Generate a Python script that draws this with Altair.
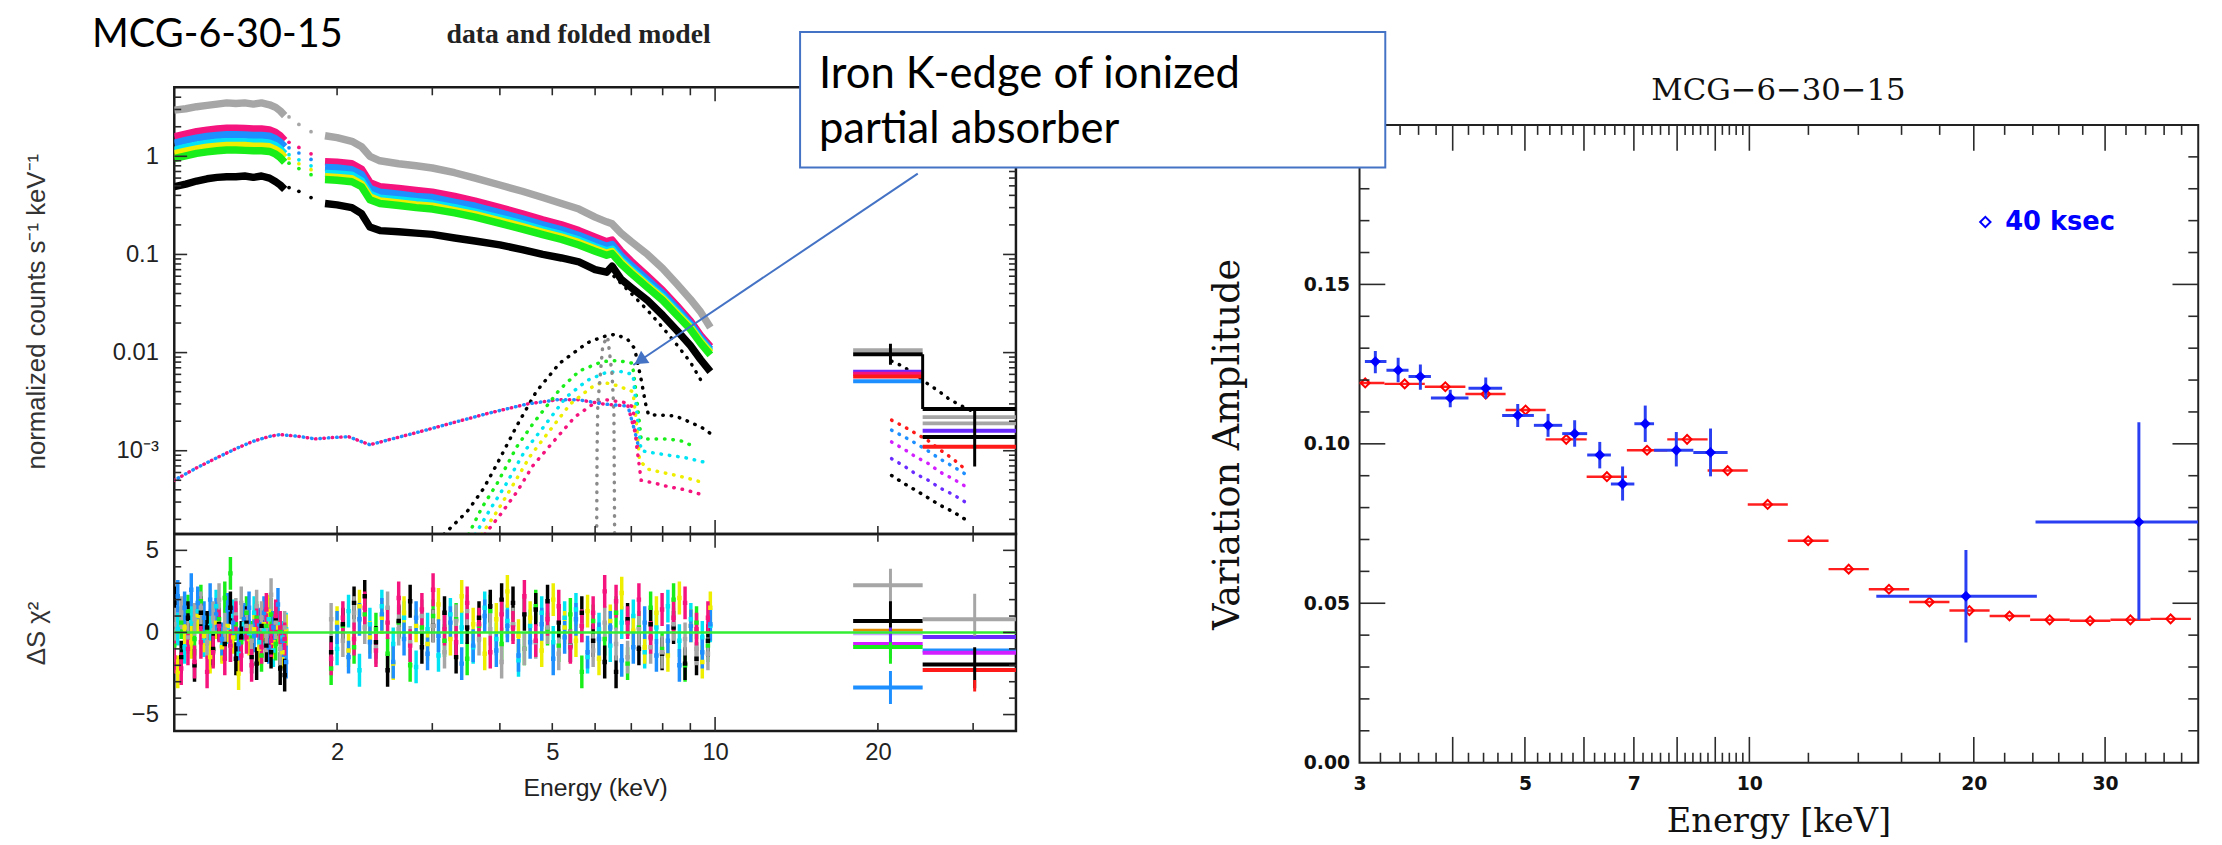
import altair as alt
import pandas as pd

# ---------------- fonts / colours ----------------
SANS = "Liberation Sans, Arial, sans-serif"
SERIF = "DejaVu Serif, serif"
BSANS = "DejaVu Sans, sans-serif"
CAL = "Lato, Open Sans, sans-serif"
TIMES = "Liberation Serif, Times New Roman, serif"

KEYS = ["gray", "pink", "blue", "cyan", "yellow", "green", "black", "red",
        "purple", "magenta", "orange", "lavender", "dgray"]
HEX = ["#a6a6a6", "#f5147e", "#1e8fff", "#00e4f4", "#eeee00", "#1aee1a", "#000000",
       "#ff1a1a", "#6a2bff", "#d21fff", "#e08c00", "#c8a8ff", "#8a8a8a"]
CSCALE = alt.Scale(domain=KEYS, range=HEX)

# ---------------- left panel: spectra ----------------
E_A = [1.00, 1.05, 1.10, 1.15, 1.20, 1.25, 1.30, 1.35, 1.40, 1.45, 1.50, 1.54, 1.57, 1.60]
E_GAP = [1.63, 1.70, 1.79]
E_B = [1.90, 2.00, 2.13, 2.22, 2.30, 2.40, 2.60, 2.80, 3.00, 3.30, 3.60, 4.00, 4.40, 4.80,
       5.20, 5.60, 6.00, 6.30, 6.45, 6.70, 7.00, 7.50, 8.00, 8.50, 9.00, 9.40, 9.80]

GRAY_A = [2.95, 3.05, 3.2, 3.3, 3.4, 3.5, 3.45, 3.5, 3.4, 3.5, 3.35, 3.15, 2.9, 2.6]
PINK_A = [1.58, 1.68, 1.78, 1.85, 1.90, 1.93, 1.93, 1.92, 1.90, 1.90, 1.86, 1.75, 1.62, 1.45]
BLUE_A = [1.36, 1.45, 1.53, 1.59, 1.63, 1.66, 1.66, 1.65, 1.63, 1.63, 1.60, 1.50, 1.39, 1.25]
CYAN_A = [1.15, 1.23, 1.30, 1.35, 1.39, 1.41, 1.41, 1.40, 1.39, 1.39, 1.36, 1.28, 1.18, 1.06]
YELL_A = [1.06, 1.13, 1.19, 1.24, 1.27, 1.29, 1.29, 1.29, 1.27, 1.27, 1.25, 1.17, 1.09, 0.97]
GREEN_A = [0.95, 1.01, 1.07, 1.11, 1.14, 1.16, 1.16, 1.15, 1.14, 1.14, 1.12, 1.05, 0.97, 0.87]
BLACK_A = [0.49, 0.52, 0.56, 0.59, 0.61, 0.62, 0.62, 0.63, 0.61, 0.63, 0.60, 0.55, 0.51, 0.46]

GRAY_G = [2.52, 2.11, 1.78]
PINK_G = [1.39, 1.23, 1.06]
BLUE_G = [1.22, 1.08, 0.93]
CYAN_G = [1.04, 0.92, 0.80]
YELL_G = [0.95, 0.84, 0.73]
GREEN_G = [0.85, 0.75, 0.65]
BLACK_G = [0.48, 0.44, 0.38]

GRAY_B = [1.62, 1.55, 1.42, 1.25, 1.0, 0.9, 0.84, 0.8, 0.76, 0.68, 0.6, 0.51, 0.44, 0.38,
          0.33, 0.29, 0.24, 0.215, 0.205, 0.165, 0.135, 0.1, 0.072, 0.05, 0.035, 0.026, 0.018]
PINK_B = [0.88, 0.87, 0.84, 0.74, 0.54, 0.49, 0.47, 0.45, 0.43, 0.39, 0.35, 0.30, 0.26, 0.225,
          0.20, 0.175, 0.15, 0.135, 0.14, 0.108, 0.085, 0.06, 0.043, 0.03, 0.021, 0.015, 0.0115]
BLUE_B = [0.77, 0.76, 0.73, 0.65, 0.47, 0.43, 0.41, 0.39, 0.38, 0.34, 0.31, 0.265, 0.23, 0.2,
          0.178, 0.156, 0.134, 0.121, 0.126, 0.097, 0.077, 0.055, 0.04, 0.028, 0.0197, 0.0141, 0.0108]
CYAN_B = [0.67, 0.66, 0.64, 0.56, 0.41, 0.375, 0.36, 0.345, 0.33, 0.3, 0.27, 0.235, 0.205, 0.178,
          0.159, 0.14, 0.12, 0.109, 0.113, 0.088, 0.07, 0.05, 0.037, 0.026, 0.0185, 0.0134, 0.0103]
YELL_B = [0.62, 0.61, 0.59, 0.52, 0.385, 0.35, 0.335, 0.32, 0.31, 0.28, 0.255, 0.22, 0.192, 0.168,
          0.15, 0.132, 0.114, 0.103, 0.107, 0.084, 0.067, 0.048, 0.0355, 0.025, 0.018, 0.013, 0.01]
GREEN_B = [0.58, 0.57, 0.55, 0.49, 0.36, 0.33, 0.315, 0.3, 0.29, 0.265, 0.24, 0.207, 0.181, 0.159,
           0.142, 0.125, 0.108, 0.098, 0.102, 0.08, 0.064, 0.046, 0.034, 0.024, 0.0173, 0.0125, 0.0095]
BLACK_B = [0.33, 0.32, 0.30, 0.26, 0.19, 0.175, 0.17, 0.165, 0.16, 0.147, 0.137, 0.125, 0.112, 0.1,
           0.092, 0.084, 0.07, 0.066, 0.076, 0.056, 0.046, 0.034, 0.024, 0.0168, 0.0118, 0.0085, 0.0064]

SPEC_ORDER = ["gray", "pink", "blue", "cyan", "yellow", "green", "black"]
SPEC_A = dict(zip(SPEC_ORDER, [GRAY_A, PINK_A, BLUE_A, CYAN_A, YELL_A, GREEN_A, BLACK_A]))
SPEC_G = dict(zip(SPEC_ORDER, [GRAY_G, PINK_G, BLUE_G, CYAN_G, YELL_G, GREEN_G, BLACK_G]))
SPEC_B = dict(zip(SPEC_ORDER, [GRAY_B, PINK_B, BLUE_B, CYAN_B, YELL_B, GREEN_B, BLACK_B]))

# dotted model components (E, value)
SOFT_E = [1.0, 1.1, 1.2, 1.3, 1.4, 1.5, 1.57, 1.7, 1.82, 1.95, 2.1, 2.3, 2.5, 2.83, 3.3, 3.8,
          4.5, 5.1, 5.6, 6.2, 6.9, 7.1, 7.25]
SOFT_V = [5.0e-4, 6.7e-4, 8.5e-4, 1.05e-3, 1.25e-3, 1.4e-3, 1.46e-3, 1.4e-3, 1.32e-3, 1.36e-3,
          1.39e-3, 1.15e-3, 1.3e-3, 1.55e-3, 1.95e-3, 2.4e-3, 3.0e-3, 3.3e-3, 3.3e-3, 3.0e-3,
          2.85e-3, 1.6e-3, 1.0e-3]
BLK_LINE_E = [3.15, 3.48, 3.73, 3.95, 4.3, 4.67, 5.16, 5.81, 6.2, 6.55, 6.9, 7.1, 7.3, 7.44,
              7.53, 8.0, 8.44, 8.9, 9.44, 9.8]
BLK_LINE_V = [1.4e-4, 2.4e-4, 4.1e-4, 7.3e-4, 1.8e-3, 4.0e-3, 7.8e-3, 0.0126, 0.0145, 0.0154,
              0.0135, 0.011, 5.3e-3, 3.0e-3, 2.33e-3, 2.3e-3, 2.26e-3, 2.0e-3, 1.73e-3, 1.5e-3]
GRN_LINE_E = [3.5, 3.7, 3.95, 4.3, 4.61, 5.16, 5.61, 6.19, 6.6, 7.03, 7.12, 7.2, 7.3, 7.6, 8.18, 8.7, 9.15]
GRN_LINE_V = [1.4e-4, 2.6e-4, 4.6e-4, 1.1e-3, 1.9e-3, 4.2e-3, 6.5e-3, 8.1e-3, 8.3e-3, 7.8e-3,
              4.5e-3, 2.65e-3, 1.32e-3, 1.32e-3, 1.32e-3, 1.25e-3, 1.1e-3]
CYN_LINE_E = [3.6, 3.85, 4.1, 4.45, 4.8, 5.3, 5.8, 6.3, 6.7, 7.05, 7.12, 7.2, 7.3, 7.6, 8.2, 8.8, 9.6]
CYN_LINE_V = [1.4e-4, 2.6e-4, 4.5e-4, 1.0e-3, 1.7e-3, 3.5e-3, 5.2e-3, 6.3e-3, 6.4e-3, 6.0e-3,
              3.5e-3, 1.9e-3, 1.0e-3, 9.6e-4, 9.0e-4, 8.5e-4, 7.6e-4]
YEL_LINE_E = [3.7, 3.95, 4.2, 4.55, 4.9, 5.4, 5.9, 6.2, 6.6, 7.05, 7.15, 7.25, 7.5, 8.0, 8.6, 9.2, 9.5]
YEL_LINE_V = [1.4e-4, 2.4e-4, 4.2e-4, 8.8e-4, 1.5e-3, 3.0e-3, 4.4e-3, 5.0e-3, 4.6e-3, 4.0e-3,
              2.0e-3, 8.0e-4, 6.5e-4, 6.0e-4, 5.5e-4, 5.0e-4, 4.7e-4]
PNK_LINE_E = [3.75, 4.0, 4.3, 4.6, 5.0, 5.5, 5.9, 6.3, 6.8, 7.05, 7.15, 7.3, 7.7, 8.2, 8.8, 9.4]
PNK_LINE_V = [1.4e-4, 2.2e-4, 3.8e-4, 7.0e-4, 1.2e-3, 2.2e-3, 2.9e-3, 3.3e-3, 3.1e-3, 2.8e-3,
              1.2e-3, 5.0e-4, 4.7e-4, 4.3e-4, 4.0e-4, 3.6e-4]
NARROW_E = [6.04, 6.05, 6.07, 6.2, 6.33, 6.45, 6.5, 6.52]
NARROW_V = [1.4e-4, 1.0e-3, 3.0e-3, 0.012, 0.0145, 0.006, 2.5e-3, 1.4e-4]
TOT_BLK_E = [6.5, 7.0, 7.5, 8.0, 8.5, 9.0, 9.5]
TOT_BLK_V = [0.06, 0.04, 0.027, 0.018, 0.012, 0.008, 0.0048]
HXD_TOT_E = [21.2, 22.3, 24.6, 26.0, 27.2, 28.8, 30.5]
HXD_TOT_V = [0.0082, 0.0072, 0.0049, 0.004, 0.0033, 0.0028, 0.0024]
HXD_CMP_E = [21.2, 22.4, 23.5, 24.8, 26.0, 27.5, 29.0]
HXD_RED_V = [2.05e-3, 1.75e-3, 1.5e-3, 1.26e-3, 1.03e-3, 8.3e-4, 6.5e-4]
HXD_BLU_V = [1.62e-3, 1.38e-3, 1.19e-3, 9.9e-4, 8.3e-4, 6.95e-4, 5.8e-4]
HXD_MAG_V = [1.23e-3, 1.03e-3, 8.65e-4, 7.4e-4, 6.1e-4, 5.2e-4, 4.35e-4]
HXD_PUR_V = [8.3e-4, 6.95e-4, 5.8e-4, 5.0e-4, 4.2e-4, 3.6e-4, 3.0e-4]
HXD_BLK_V = [5.6e-4, 4.6e-4, 3.95e-4, 3.3e-4, 2.8e-4, 2.4e-4, 2.0e-4]

# HXD data bins (upper)
HXD_LO = [18.0, 24.2]
HXD_HI = [24.2, 36.0]
HXD_UP_K1 = ["gray", "black", "purple", "pink", "red", "blue"]
HXD_UP_V1 = [0.0106, 0.0096, 0.0064, 0.0061, 0.0057, 0.0051]
HXD_UP_K2 = ["black", "gray", "gray", "purple", "black", "red"]
HXD_UP_V2 = [0.00266, 0.0022, 0.0019, 0.0016, 0.00138, 0.0011]
HXD_UP_VE = [21.1, 24.2, 30.2]
HXD_UP_VLO = [0.0075, 0.00266, 0.00069]
HXD_UP_VHI = [0.0123, 0.0096, 0.0026]

# ---------------- residuals ----------------
RES_E_A1 = [1.00, 1.03, 1.06, 1.09, 1.12, 1.15, 1.18, 1.21, 1.24, 1.27, 1.30, 1.33, 1.36, 1.39,
            1.42, 1.45, 1.48, 1.51, 1.54, 1.57, 1.60]
RES_E_B1 = [1.95, 2.05, 2.15, 2.25, 2.36, 2.48, 2.60, 2.73, 2.87, 3.01, 3.16, 3.32, 3.48, 3.66,
            3.84, 4.03, 4.23, 4.44, 4.66, 4.90, 5.14, 5.40, 5.67, 5.95, 6.25, 6.56, 6.89, 7.23,
            7.60, 7.98, 8.38, 8.80, 9.24, 9.70]
RES_E_A2 = [1.015, 1.045, 1.075, 1.105, 1.135, 1.165, 1.195, 1.225, 1.255, 1.285, 1.315, 1.345,
            1.375, 1.405, 1.435, 1.465, 1.495, 1.525, 1.555, 1.585, 1.61]
RES_E_B2 = [2.00, 2.10, 2.20, 2.30, 2.42, 2.54, 2.66, 2.80, 2.94, 3.08, 3.24, 3.40, 3.57, 3.75,
            3.94, 4.13, 4.33, 4.55, 4.78, 5.02, 5.27, 5.53, 5.81, 6.10, 6.40, 6.72, 7.06, 7.41,
            7.79, 8.18, 8.59, 9.02, 9.47, 9.80]
RES_GRAY = [0.5, 1.2, -0.3, 0.8, 1.5, -0.6, 0.9, 2.0, 0.2, -0.8, 1.1, 1.8, 0.4, -0.5, 1.6, 0.9, -0.2,
            2.3, 0.6, -1.0, 0.3,
            0.8, -0.5, 1.2, 0.3, -0.9, 1.5, 0.2, -0.6, 1.0, 0.4, -1.2, 0.7, 1.3, -0.4, 0.2, -1.8, 0.5,
            -1.0, -0.6, 0.3, -1.3, -0.8, 0.4, -1.1, 0.6, -0.7, -1.5, 0.2, -0.9, -1.2, 0.5, -0.4, -1.0, -1.3]
RES_BLACK = [1.8, -1.5, 0.9, -2.0, 1.2, 0.3, -1.0, 0.5, -0.7, 1.5, -1.6, -0.3, 0.6, -1.5, -1.9, 0.4,
             -0.8, -1.2, 0.8, -2.2, -2.6,
             -1.2, 0.5, 1.8, 2.2, -0.6, -2.3, 0.7, 1.9, -0.9, 0.4, 1.2, -1.5, 0.3, 0.9, 1.6, 2.0, 1.8,
             1.1, 1.4, 1.9, 0.6, -0.8, 1.2, -0.5, -1.8, -2.4, 0.8, -1.0, 0.5, -1.3, 0.3, -1.9, -1.6, -0.5]
RES_PINK = [-1.5, -2.2, -1.0, -1.8, -0.6, -2.4, -1.2, 0.4, -1.6, -0.8, 0.9, -1.4, -0.3, -2.0, 0.7,
            -0.9, 1.4, -0.5, 1.0, 0.3, -0.4,
            -1.6, 0.9, -0.4, 1.5, -1.1, 0.6, 2.1, -0.8, 1.4, 2.6, 0.2, -0.6, 1.8, 0.5, -1.2, 1.1, 0.3,
            2.2, -0.5, 0.8, 1.6, -0.9, 0.4, 1.2, 2.5, 1.9, 0.6, 2.0, -0.3, 1.4, 0.9, 1.8, 0.2, 0.9]
RES_GREEN = [-0.8, 0.6, 1.3, -0.4, 1.9, 0.2, -1.1, 0.8, 2.1, 3.6, 0.5, -0.6, 1.2, -0.3, 0.9, -1.4,
             0.4, 1.1, -0.7, 0.2, -0.5,
             -2.2, 0.4, -0.9, 1.1, 0.2, -1.3, 0.6, -2.0, 0.3, 1.0, -0.5, 0.8, -1.6, 0.4, 1.3, -0.7,
             0.5, -1.0, 1.6, 0.2, -0.8, 1.1, -2.4, 0.7, -0.4, 1.2, -1.9, 0.3, 1.5, -1.0, 2.0, -2.0, 0.6, -0.8]
RES_BLUE = [2.2, 1.5, 2.6, 1.8, 0.9, 2.0, 1.1, -0.4, 1.4, 0.6, -0.7, 0.8, 1.5, -0.2, 0.5, 1.2, -0.9,
            0.3, 1.7, -0.5, -1.8,
            0.3, -1.5, 0.8, -0.6, 1.1, -1.8, -0.4, 0.9, -1.3, -0.2, 0.6, -1.9, -0.8, 1.0, -1.1, 0.4,
            -1.4, -0.6, 0.5, -1.6, -0.3, 0.8, -1.2, -0.4, 0.3, -1.7, -0.9, 0.6, -1.4, -0.5, -2.0, 0.4, -1.2, 0.5]
RES_CYAN = [0.2, -0.9, 0.7, 1.3, -0.5, 0.4, 1.6, -0.8, 0.3, 1.0, -1.3, 0.5, -0.2, 1.2, -0.6, 0.1,
            0.8, -1.1, 0.5, -0.3, 0.2,
            -1.0, 1.3, -2.3, 0.5, 1.6, -0.7, 0.9, -2.1, 0.2, -1.4, 1.1, 0.3, -0.9, 1.5, -0.4, 0.7,
            -1.7, 0.4, 1.2, -0.6, 0.9, 1.4, -1.5, 0.2, -0.8, 0.6, 1.0, -1.2, 0.3, 1.6, -0.5, 0.8, -0.3, 0.4]
RES_YELL = [-2.4, 0.3, -0.6, 1.0, -0.2, -1.5, 0.6, -0.9, 0.4, -0.3, -2.5, 0.8, -0.4, 0.2, -1.0, 0.5,
            1.3, -0.6, 0.3, -1.2, 0.1,
            0.6, -1.1, 1.6, -0.3, 0.9, -1.9, 1.2, 0.4, -0.7, 1.7, -0.4, 2.2, 0.5, -1.3, 0.8, 2.5, -0.2,
            0.9, -1.1, 2.0, 0.3, -0.5, 1.3, -1.6, 0.7, 2.4, 0.1, -0.9, 1.2, -1.4, 2.1, 0.4, -1.8, 1.5]
RES_ERR = 1.0

HXD_RES_K1 = ["gray", "black", "orange", "lavender", "magenta", "green", "blue"]
HXD_RES_V1 = [2.87, 0.70, 0.10, -0.05, -0.70, -0.88, -3.35]
HXD_RES_K2 = ["gray", "purple", "blue", "magenta", "black", "red"]
HXD_RES_V2 = [0.81, -0.28, -1.10, -1.24, -1.95, -2.29]
HXD_RES_VE = [21.1, 21.1, 21.1, 21.1, 21.1, 30.2, 30.2, 30.2]
HXD_RES_VK = ["gray", "black", "purple", "green", "blue", "gray", "black", "red"]
HXD_RES_VLO = [1.77, -0.6, -1.6, -1.9, -4.35, -0.2, -3.4, -3.6]
HXD_RES_VHI = [3.88, 1.9, 0.3, -0.6, -2.35, 2.35, -0.9, -2.9]

# ---------------- right panel ----------------
RED_E = [3.053, 3.449, 3.91, 4.43, 5.01, 5.68, 6.44, 7.29, 8.25, 9.35, 10.58, 11.99, 13.59, 15.39,
         17.44, 19.73, 22.33, 25.28, 28.64, 32.44, 36.73]
RED_V = [0.1191, 0.1188, 0.1179, 0.1156, 0.1106, 0.1014, 0.0897, 0.0980, 0.1014, 0.0916, 0.0810,
         0.0696, 0.0607, 0.0544, 0.0504, 0.0477, 0.0460, 0.0448, 0.0445, 0.0448, 0.0451]
RED_LO = [2.87, 3.24, 3.67, 4.16, 4.71, 5.33, 6.05, 6.85, 7.76, 8.79, 9.95, 11.26, 12.77, 14.46,
          16.38, 18.55, 21.0, 23.8, 26.9, 30.5, 34.5]
RED_HI = [3.24, 3.67, 4.16, 4.71, 5.33, 6.05, 6.85, 7.76, 8.79, 9.95, 11.26, 12.77, 14.46, 16.38,
          18.55, 21.0, 23.8, 26.9, 30.5, 34.5, 39.1]
BLUE_E = [3.15, 3.38, 3.62, 3.97, 4.43, 4.89, 5.37, 5.83, 6.30, 6.76, 7.25, 7.98, 8.87, 19.52, 33.3]
BLUE_V = [0.1258, 0.1231, 0.1211, 0.1144, 0.1174, 0.1089, 0.1058, 0.1032, 0.0965, 0.0874, 0.1063,
          0.0980, 0.0973, 0.0522, 0.0755]
BLUE_LO = [3.05, 3.26, 3.49, 3.74, 4.20, 4.66, 5.14, 5.61, 6.06, 6.52, 7.01, 7.45, 8.41, 14.8, 24.2]
BLUE_HI = [3.26, 3.49, 3.74, 4.20, 4.66, 5.14, 5.61, 6.06, 6.52, 7.01, 7.45, 8.41, 9.35, 24.3, 40.0]
BLUE_ELO = [0.1221, 0.1193, 0.1170, 0.1115, 0.1141, 0.1053, 0.1022, 0.0991, 0.0923, 0.0822, 0.1006,
            0.0929, 0.0898, 0.0377, 0.0448]
BLUE_EHI = [0.1291, 0.1270, 0.1249, 0.1170, 0.1208, 0.1125, 0.1094, 0.1074, 0.1006, 0.0929, 0.1120,
            0.1037, 0.1048, 0.0667, 0.1068]

# tick positions
L_X_MAJ = [10]
L_X_MIN = [2, 3, 4, 5, 6, 7, 8, 9, 20, 30]
L_Y_MAJ = [1e-3, 1e-2, 0.1, 1]
L_Y_MIN = [m * d for d in [1e-4, 1e-3, 1e-2, 0.1, 1] for m in range(2, 10) if 1.5e-4 < m * d < 5.0]
R_RES_MAJ = [-5, 0, 5]
R_RES_MIN = [-4, -3, -2, -1, 1, 2, 3, 4]
R_X_MAJ = [4, 5, 6, 7, 8, 9, 10, 20, 30]
R_X_MIN = [round(3 + 0.2 * i, 1) for i in range(1, 35) if (i % 5) != 0] + \
          [12, 14, 16, 18, 22, 24, 26, 28, 32, 34, 36, 38]
R_Y_MAJ = [0.05, 0.10, 0.15]
R_Y_MIN = [round(0.01 * i, 2) for i in range(1, 20) if i % 5 != 0]

# ---------------- geometry ----------------
UW, UH = 850, 451
LH = 199
RW, RH = 847, 644
XS_L = alt.Scale(type="log", domain=[1, 36], nice=False)
YS_U = alt.Scale(type="log", domain=[1.42e-4, 5.04], nice=False)
YS_L = alt.Scale(domain=[-6, 6], nice=False, zero=False)
XS_R = alt.Scale(type="log", domain=[3, 40], nice=False)
YS_R = alt.Scale(domain=[0, 0.2], nice=False, zero=False)
ONE = pd.DataFrame({"a": [0]})
TICK_C = "#2a2a2a"


def xticks(vals, scale, H, L, axis_off=True, sw=1.6):
    df = pd.DataFrame({"t": vals})
    xe = alt.X("t:Q", scale=scale, axis=None) if axis_off else alt.X("t:Q", scale=scale)
    top = alt.Chart(df).mark_rule(color=TICK_C, strokeWidth=sw).encode(
        x=xe, y=alt.value(0), y2=alt.value(L))
    bot = alt.Chart(df).mark_rule(color=TICK_C, strokeWidth=sw).encode(
        x=xe, y=alt.value(H), y2=alt.value(H - L))
    return [top, bot]


def yticks(vals, scale, W, L, sw=1.6):
    df = pd.DataFrame({"t": vals})
    lft = alt.Chart(df).mark_rule(color=TICK_C, strokeWidth=sw).encode(
        y=alt.Y("t:Q", scale=scale), x=alt.value(0), x2=alt.value(L))
    rgt = alt.Chart(df).mark_rule(color=TICK_C, strokeWidth=sw).encode(
        y=alt.Y("t:Q", scale=scale), x=alt.value(W), x2=alt.value(W - L))
    return [lft, rgt]


def text(t, x, y, font, size, color="#000", weight="normal", align="left", baseline="alphabetic"):
    return alt.Chart(ONE).mark_text(text=t, font=font, fontSize=size, color=color,
                                    fontWeight=weight, align=align, baseline=baseline).encode(
        x=alt.value(x), y=alt.value(y))


def anchor(x1, x2, y1, y2):
    # invisible layout helper fixing the bounding box of a column
    return alt.Chart(ONE).mark_rule(strokeOpacity=0, strokeWidth=0.1).encode(
        x=alt.value(x1), x2=alt.value(x2), y=alt.value(y1), y2=alt.value(y2))


# ---------------- build upper-left view ----------------
rows = []
for k in SPEC_ORDER:
    for e, v in zip(E_A, SPEC_A[k]):
        rows.append({"E": e, "v": v, "k": k, "seg": k + "A"})
    for e, v in zip(E_B, SPEC_B[k]):
        rows.append({"E": e, "v": v, "k": k, "seg": k + "B"})
spec_df = pd.DataFrame(rows)
gap_df = pd.DataFrame([{"E": e, "v": v, "k": k} for k in SPEC_ORDER for e, v in zip(E_GAP, SPEC_G[k])])

models = [
    ("soft", "pink", SOFT_E, SOFT_V), ("blk", "black", BLK_LINE_E, BLK_LINE_V),
    ("grn", "green", GRN_LINE_E, GRN_LINE_V), ("cyn", "cyan", CYN_LINE_E, CYN_LINE_V),
    ("yel", "yellow", YEL_LINE_E, YEL_LINE_V), ("pnk", "pink", PNK_LINE_E, PNK_LINE_V),
    ("nar", "dgray", NARROW_E, NARROW_V), ("tot", "black", TOT_BLK_E, TOT_BLK_V),
    ("htot", "black", HXD_TOT_E, HXD_TOT_V), ("hred", "red", HXD_CMP_E, HXD_RED_V),
    ("hblu", "blue", HXD_CMP_E, HXD_BLU_V), ("hmag", "magenta", HXD_CMP_E, HXD_MAG_V),
    ("hpur", "purple", HXD_CMP_E, HXD_PUR_V), ("hblk", "black", HXD_CMP_E, HXD_BLK_V),
]
mrows = []
for name, k, es, vs in models:
    for e, v in zip(es, vs):
        mrows.append({"E": e, "v": v, "k": k, "c": name})
model_df = pd.DataFrame(mrows)
soft_b_df = pd.DataFrame({"E": SOFT_E, "v": SOFT_V, "k": "blue"})

hxd_rows = []
for k, v in zip(HXD_UP_K1, HXD_UP_V1):
    hxd_rows.append({"lo": HXD_LO[0], "hi": HXD_HI[0], "v": v, "k": k})
for k, v in zip(HXD_UP_K2, HXD_UP_V2):
    hxd_rows.append({"lo": HXD_LO[1], "hi": HXD_HI[1], "v": v, "k": k})
hxd_df = pd.DataFrame(hxd_rows)
hxd_v_df = pd.DataFrame({"E": HXD_UP_VE, "lo": HXD_UP_VLO, "hi": HXD_UP_VHI})

ARROW_E = [23.7, 7.06]
ARROW_V = [0.666, 0.00748]
arrow_df = pd.DataFrame({"E": ARROW_E, "v": ARROW_V})
head_df = pd.DataFrame({"E": [7.26], "v": [0.0083]})

Y_AXIS_U = alt.Axis(values=[0.001, 0.01, 0.1, 1],
                    labelExpr="datum.value > 0.5 ? '1' : datum.value > 0.05 ? '0.1' : datum.value > 0.005 ? '0.01' : '10⁻³'",
                    ticks=False, domain=False, grid=False, labelFont=SANS, labelFontSize=24,
                    labelColor="#222", labelPadding=16, labelFlush=False, labelOverlap=False,
                    title="normalized counts s⁻¹ keV⁻¹", titleFont=SANS, titleFontSize=26,
                    titleFontWeight="normal", titleColor="#333", titleAngle=270,
                    titleX=-139, titleY=226, titleAlign="center", titleBaseline="middle")

spec_lines = alt.Chart(spec_df).mark_line(strokeWidth=7.5, clip=True, strokeJoin="round").encode(
    x=alt.X("E:Q", scale=XS_L, axis=None),
    y=alt.Y("v:Q", scale=YS_U, axis=Y_AXIS_U),
    color=alt.Color("k:N", scale=CSCALE, legend=None),
    detail="seg:N")
gap_pts = alt.Chart(gap_df).mark_point(filled=True, size=14, opacity=1, clip=True).encode(
    x=alt.X("E:Q", scale=XS_L, axis=None), y=alt.Y("v:Q", scale=YS_U),
    color=alt.Color("k:N", scale=CSCALE, legend=None))
model_lines = alt.Chart(model_df).mark_line(strokeWidth=3.5, strokeDash=[0.5, 8], strokeCap="round",
                                            clip=True).encode(
    x=alt.X("E:Q", scale=XS_L, axis=None), y=alt.Y("v:Q", scale=YS_U),
    color=alt.Color("k:N", scale=CSCALE, legend=None), detail="c:N")
soft_b = alt.Chart(soft_b_df).mark_line(strokeWidth=3.5, strokeDash=[0.5, 8], strokeDashOffset=4,
                                        strokeCap="round", clip=True).encode(
    x=alt.X("E:Q", scale=XS_L, axis=None), y=alt.Y("v:Q", scale=YS_U),
    color=alt.Color("k:N", scale=CSCALE, legend=None))
hxd_rules = alt.Chart(hxd_df).mark_rule(strokeWidth=4, clip=True).encode(
    x=alt.X("lo:Q", scale=XS_L, axis=None), x2="hi:Q", y=alt.Y("v:Q", scale=YS_U),
    color=alt.Color("k:N", scale=CSCALE, legend=None))
hxd_vrules = alt.Chart(hxd_v_df).mark_rule(strokeWidth=3, color="#000", clip=True).encode(
    x=alt.X("E:Q", scale=XS_L, axis=None), y=alt.Y("lo:Q", scale=YS_U), y2="hi:Q")
arrow_line = alt.Chart(arrow_df).mark_line(color="#4472C4", strokeWidth=2).encode(
    x=alt.X("E:Q", scale=XS_L, axis=None), y=alt.Y("v:Q", scale=YS_U))
arrow_head = alt.Chart(head_df).mark_point(shape="triangle-up", filled=True, size=230, angle=236,
                                           color="#4472C4", opacity=1).encode(
    x=alt.X("E:Q", scale=XS_L, axis=None), y=alt.Y("v:Q", scale=YS_U))

upper_layers = [spec_lines, anchor(-174, 860, -82, 763), gap_pts, model_lines, soft_b,
                hxd_rules, hxd_vrules, arrow_line, arrow_head,
                text("MCG-6-30-15", -83, -41, CAL, 40, "#000"),
                text("data and folded model", 275, -45, TIMES, 28, "#222", "bold")]
upper_layers += xticks(L_X_MAJ, XS_L, UH, 14) + xticks(L_X_MIN, XS_L, UH, 8)
upper_layers += yticks(L_Y_MAJ, YS_U, UW, 13) + yticks(L_Y_MIN, YS_U, UW, 7)
upper = alt.layer(*upper_layers).properties(
    width=UW, height=UH, view=alt.ViewBackground(stroke="#1a1a1a", strokeWidth=2.5))

# ---------------- lower-left view (residuals) ----------------
res_sets = [
    ("cyan", RES_E_A2 + RES_E_B2, RES_CYAN), ("yellow", RES_E_A2 + RES_E_B2, RES_YELL),
    ("green", RES_E_A1 + RES_E_B1, RES_GREEN), ("blue", RES_E_A2 + RES_E_B2, RES_BLUE),
    ("black", RES_E_A1 + RES_E_B1, RES_BLACK), ("gray", RES_E_A1 + RES_E_B1, RES_GRAY),
    ("pink", RES_E_A1 + RES_E_B1, RES_PINK),
]
rrows = []
for k, es, rs in res_sets:
    for e, r in zip(es, rs):
        rrows.append({"E": e, "r": r, "lo": r - RES_ERR, "hi": r + RES_ERR, "k": k})
res_df = pd.DataFrame(rrows)

hrows = []
for k, v in zip(HXD_RES_K1, HXD_RES_V1):
    hrows.append({"lo": HXD_LO[0], "hi": HXD_HI[0], "r": v, "k": k})
for k, v in zip(HXD_RES_K2, HXD_RES_V2):
    hrows.append({"lo": HXD_LO[1], "hi": HXD_HI[1], "r": v, "k": k})
hres_df = pd.DataFrame(hrows)
hres_v_df = pd.DataFrame({"E": HXD_RES_VE, "lo": HXD_RES_VLO, "hi": HXD_RES_VHI, "k": HXD_RES_VK})
zero_df = pd.DataFrame({"a": [1.0], "b": [36.0], "r": [0.0]})

X_AXIS_LOW = alt.Axis(values=[2, 5, 10, 20], format="d", ticks=False, domain=False, grid=False,
                      labelFont=SANS, labelFontSize=24, labelColor="#222", labelPadding=10,
                      labelFlush=False, labelOverlap=False, title="Energy (keV)", titleFont=SANS,
                      titleFontSize=25, titleFontWeight="normal", titleColor="#222",
                      titleX=425, titleY=57, titleAlign="center", titleBaseline="middle")
Y_AXIS_LOW = alt.Axis(values=[-5, 0, 5], format="d", ticks=False, domain=False, grid=False,
                      labelFont=SANS, labelFontSize=24, labelColor="#222", labelPadding=16,
                      labelFlush=False, labelOverlap=False, title="ΔS χ²", titleFont=SANS,
                      titleFontSize=26, titleFontWeight="normal", titleColor="#333",
                      titleAngle=270, titleX=-139, titleY=100, titleAlign="center",
                      titleBaseline="middle")

res_rules = alt.Chart(res_df).mark_rule(strokeWidth=3.5, clip=True).encode(
    x=alt.X("E:Q", scale=XS_L, axis=X_AXIS_LOW),
    y=alt.Y("lo:Q", scale=YS_L, axis=Y_AXIS_LOW), y2="hi:Q",
    color=alt.Color("k:N", scale=CSCALE, legend=None))
res_pts = alt.Chart(res_df).mark_point(filled=True, size=20, shape="square", opacity=1, clip=True).encode(
    x=alt.X("E:Q", scale=XS_L), y=alt.Y("r:Q", scale=YS_L),
    color=alt.Color("k:N", scale=CSCALE, legend=None))
hres_rules = alt.Chart(hres_df).mark_rule(strokeWidth=4, clip=True).encode(
    x=alt.X("lo:Q", scale=XS_L), x2="hi:Q", y=alt.Y("r:Q", scale=YS_L),
    color=alt.Color("k:N", scale=CSCALE, legend=None))
hres_v = alt.Chart(hres_v_df).mark_rule(strokeWidth=3, clip=True).encode(
    x=alt.X("E:Q", scale=XS_L), y=alt.Y("lo:Q", scale=YS_L), y2="hi:Q",
    color=alt.Color("k:N", scale=CSCALE, legend=None))
zero_line = alt.Chart(zero_df).mark_rule(strokeWidth=2.5, color="#33ee33", clip=True).encode(
    x=alt.X("a:Q", scale=XS_L), x2="b:Q", y=alt.Y("r:Q", scale=YS_L))

lower_layers = [res_rules, res_pts, hres_rules, hres_v, zero_line]
lower_layers += xticks(L_X_MAJ, XS_L, LH, 14, False) + xticks(L_X_MIN, XS_L, LH, 8, False)
lower_layers += yticks(R_RES_MAJ, YS_L, UW, 13) + yticks(R_RES_MIN, YS_L, UW, 7)
lower = alt.layer(*lower_layers).properties(
    width=UW, height=LH, view=alt.ViewBackground(stroke="#1a1a1a", strokeWidth=2.5))

left_col = alt.vconcat(upper, lower, spacing=0, bounds="flush").resolve_scale(
    x="independent", y="independent")

# ---------------- right view ----------------
red_df = pd.DataFrame({"E": RED_E, "v": RED_V, "lo": RED_LO, "hi": RED_HI})
blue_df = pd.DataFrame({"E": BLUE_E, "v": BLUE_V, "lo": BLUE_LO, "hi": BLUE_HI,
                        "elo": BLUE_ELO, "ehi": BLUE_EHI})

X_AXIS_R = alt.Axis(values=[3, 5, 7, 10, 20, 30], format="d", ticks=False, domain=False, grid=False,
                    labelFont=BSANS, labelFontSize=19, labelFontWeight="bold", labelColor="#111",
                    labelPadding=12, labelFlush=False, labelOverlap=False, title="Energy [keV]",
                    titleFont=SERIF, titleFontSize=34, titleFontWeight="normal", titleColor="#111",
                    titleX=423, titleY=60, titleAlign="center", titleBaseline="middle")
Y_AXIS_R = alt.Axis(values=[0, 0.05, 0.1, 0.15], format=".2f", ticks=False, domain=False, grid=False,
                    labelFont=BSANS, labelFontSize=19, labelFontWeight="bold", labelColor="#111",
                    labelPadding=10, labelFlush=False, labelOverlap=False,
                    title="Variation  Amplitude", titleFont=SERIF, titleFontSize=37,
                    titleFontWeight="normal", titleColor="#111", titleAngle=270,
                    titleX=-133, titleY=322, titleAlign="center", titleBaseline="middle")

red_bars = alt.Chart(red_df).mark_rule(color="#ff1f1f", strokeWidth=2.5, clip=True).encode(
    x=alt.X("lo:Q", scale=XS_R, axis=X_AXIS_R), x2="hi:Q",
    y=alt.Y("v:Q", scale=YS_R, axis=Y_AXIS_R))
red_pts = alt.Chart(red_df).mark_point(shape="diamond", filled=False, color="#ff0000", size=80,
                                       strokeWidth=2, opacity=1, clip=True).encode(
    x=alt.X("E:Q", scale=XS_R), y=alt.Y("v:Q", scale=YS_R))
blue_h = alt.Chart(blue_df).mark_rule(color="#2b3ff2", strokeWidth=3, clip=True).encode(
    x=alt.X("lo:Q", scale=XS_R), x2="hi:Q", y=alt.Y("v:Q", scale=YS_R))
blue_v = alt.Chart(blue_df).mark_rule(color="#2b3ff2", strokeWidth=3, clip=True).encode(
    x=alt.X("E:Q", scale=XS_R), y=alt.Y("elo:Q", scale=YS_R), y2="ehi:Q")
blue_pts = alt.Chart(blue_df).mark_point(shape="diamond", filled=True, color="#0000ff", size=120,
                                         opacity=1, clip=True).encode(
    x=alt.X("E:Q", scale=XS_R), y=alt.Y("v:Q", scale=YS_R))

legend_sym = alt.Chart(ONE).mark_point(shape="diamond", filled=False, color="#0000ff", size=110,
                                       strokeWidth=2, opacity=1).encode(
    x=alt.value(632), y=alt.value(98))
box = alt.Chart(ONE).mark_rect(fill="white", stroke="#4472C4", strokeWidth=2).encode(
    x=alt.value(-565), x2=alt.value(26), y=alt.value(-94), y2=alt.value(43))

right_layers = [red_bars, anchor(-600, 870, -120, 730), red_pts, blue_h, blue_v, blue_pts]
right_layers += xticks(R_X_MAJ, XS_R, RH, 26, False) + xticks(R_X_MIN, XS_R, RH, 10, False)
right_layers += yticks(R_Y_MAJ, YS_R, RW, 26) + yticks(R_Y_MIN, YS_R, RW, 10)
right_layers += [
    text("MCG−6−30−15", 423, -34, SERIF, 31, "#111", align="center", baseline="middle"),
    legend_sym,
    text("40 ksec", 652, 98, BSANS, 26, "#0000ff", "bold", baseline="middle"),
    box,
    text("Iron K-edge of ionized", -546, -37, CAL, 44, "#000"),
    text("partial absorber", -546, 18, CAL, 44, "#000"),
]
right = alt.layer(*right_layers).properties(
    width=RW, height=RH, view=alt.ViewBackground(stroke="#222", strokeWidth=2))

# empty spacer that lowers the right plot by 38 px relative to the upper-left plot
spacer = alt.Chart(ONE).mark_point(opacity=0).encode(x=alt.value(0), y=alt.value(0)).properties(
    width=RW, height=38, view=alt.ViewBackground(stroke="transparent"))
right_col = alt.vconcat(spacer, right, spacing=0, bounds="flush").resolve_scale(
    x="independent", y="independent")

chart = alt.hconcat(left_col, right_col, spacing=-266, bounds="full", padding=0).resolve_scale(
    x="independent", y="independent", color="shared")

chart.save("out.html", embed_options={"renderer": "svg", "actions": False})
